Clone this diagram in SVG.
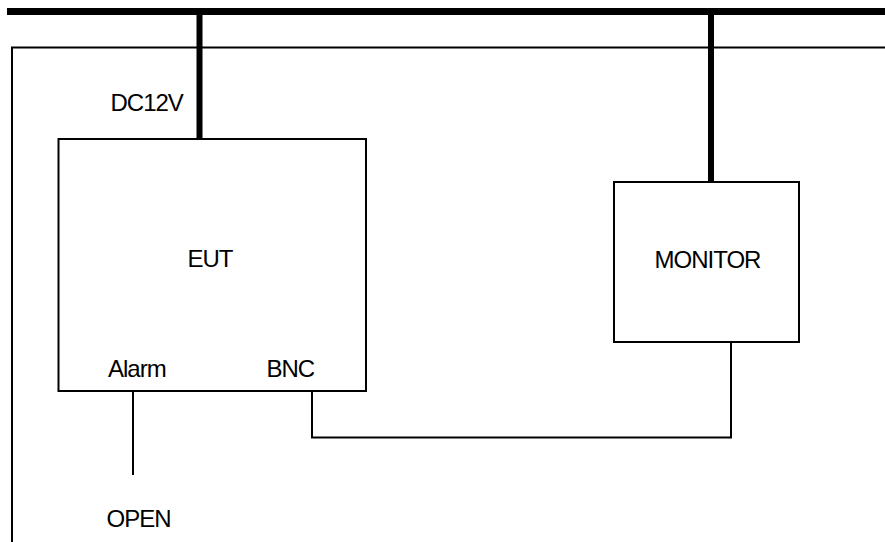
<svg xmlns="http://www.w3.org/2000/svg" width="885" height="542" viewBox="0 0 885 542">
<style>
.t{font-family:"Liberation Sans",Arial,sans-serif;font-size:24px;letter-spacing:-1px;fill:#000}
.thin{fill:none;stroke:#000;stroke-width:2}
.thick{fill:none;stroke:#000;stroke-width:6}
.box{fill:#fff;stroke:#000;stroke-width:2}
</style>
<rect width="885" height="542" fill="#fff"/>
<g id="frame">
<path class="thin" d="M885,47.5 H12 V542"/>
<line x1="7" y1="11.5" x2="885" y2="11.5" stroke="#000" stroke-width="7"/>
</g>
<g id="connectors">
<line class="thick" x1="199.5" y1="11" x2="199.5" y2="139"/>
<line class="thick" x1="711" y1="11" x2="711" y2="182"/>
<path class="thin" d="M312,391 V437.5 H731 V339"/>
<line class="thin" x1="133" y1="390" x2="133" y2="475"/>
</g>
<g id="eut">
<rect class="box" x="58.5" y="139" width="307.5" height="252"/>
<text class="t" x="210" y="267" text-anchor="middle">EUT</text>
<text class="t" x="108" y="377">Alarm</text>
<text class="t" x="266.5" y="377">BNC</text>
</g>
<g id="monitor">
<rect class="box" x="614" y="182" width="185" height="160"/>
<text class="t" x="707.5" y="268" text-anchor="middle">MONITOR</text>
</g>
<g id="labels">
<text class="t" x="110.5" y="111">DC12V</text>
<text class="t" x="106.5" y="527">OPEN</text>
</g>
</svg>
